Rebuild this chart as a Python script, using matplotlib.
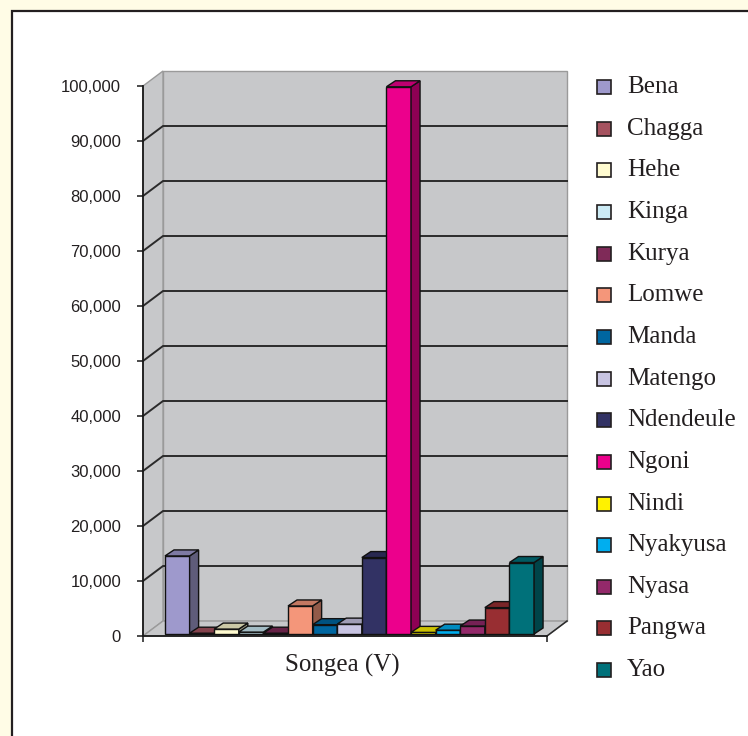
import matplotlib

matplotlib.use("Agg")
import matplotlib.pyplot as plt
from matplotlib.colors import to_rgb
from matplotlib.patches import Polygon, Rectangle
from matplotlib.ticker import FuncFormatter


# Speakers per language group, Songea (V)
groups = [
    "Bena", "Chagga", "Hehe", "Kinga", "Kurya", "Lomwe", "Manda", "Matengo",
    "Ndendeule", "Ngoni", "Nindi", "Nyakyusa", "Nyasa", "Pangwa", "Yao",
]
speakers = [
    14200, 150, 900, 350, 150, 5100, 1700, 1800,
    13900, 99500, 300, 700, 1450, 4800, 13000,
]
colors = [
    "#9E99CC", "#A5525F", "#FFFBD0", "#CCEBF5", "#7F2A58", "#F4967A", "#0066A0", "#C8C4E2",
    "#323264", "#EC008C", "#FFF200", "#00AEEF", "#93296A", "#982E32", "#00717A",
]
category = "Songea (V)"
y_max = 100000
y_step = 10000

# pseudo-3D geometry (x in bar widths, y in value units)
XSPAN = 16.42
BAR_X0 = 0.894
DEPTH_X = 0.813
DEPTH_Y = 2727
BAR_DX = 0.366
BAR_DY = 1091
BAR_BASE = 360

WALL = "#C7C8CA"
WALL_EDGE = "#9A9A9A"
GRID = "#2B2B2B"
SERIF = "Liberation Serif"


def shade(color, k):
    r, g, b = to_rgb(color)
    return (r * k, g * k, b * k)


def add_poly(ax, pts, face, edge, lw, z):
    ax.add_patch(Polygon(pts, closed=True, facecolor=face, edgecolor=edge,
                         linewidth=lw, zorder=z, clip_on=False))


fig = plt.figure(figsize=(7.48, 7.36), dpi=100)
fig.patch.set_facecolor("#FFFCE6")
fig.add_artist(Rectangle((11.5 / 748, -0.1), 1.2, 1 - 11 / 736 + 0.1,
                         transform=fig.transFigure, facecolor="white",
                         edgecolor="#231F20", linewidth=1.6, zorder=0))

ax = fig.add_axes([143 / 748, 100 / 736, 404 / 748, 550 / 736])
ax.set_facecolor("none")
ax.set_xlim(0, XSPAN)
ax.set_ylim(0, y_max)

# walls and floor
top = y_max + DEPTH_Y
add_poly(ax, [(DEPTH_X, DEPTH_Y), (XSPAN + DEPTH_X, DEPTH_Y), (XSPAN + DEPTH_X, top), (DEPTH_X, top)],
         WALL, WALL_EDGE, 1.0, 0.5)
add_poly(ax, [(0, 0), (DEPTH_X, DEPTH_Y), (DEPTH_X, top), (0, y_max)], WALL, WALL_EDGE, 1.0, 0.5)
add_poly(ax, [(0, 0), (XSPAN, 0), (XSPAN + DEPTH_X, DEPTH_Y), (DEPTH_X, DEPTH_Y)], WALL, WALL_EDGE, 1.0, 0.6)
ax.plot([XSPAN, XSPAN + DEPTH_X], [0, DEPTH_Y], color=GRID, lw=1.1, zorder=0.7, clip_on=False)

for v in range(y_step, y_max, y_step):
    ax.plot([0, DEPTH_X, XSPAN + DEPTH_X], [v, v + DEPTH_Y, v + DEPTH_Y],
            color=GRID, lw=1.4, zorder=0.8, clip_on=False)

# bars, left to right so each one hides its neighbour's side face
for i, (val, col) in enumerate(zip(speakers, colors)):
    x0 = BAR_X0 + i
    x1 = x0 + 1
    y0 = BAR_BASE
    y1 = BAR_BASE + val
    z = 2 + i * 0.01
    add_poly(ax, [(x0, y0), (x1, y0), (x1, y1), (x0, y1)], col, "#111111", 1.0, z)
    add_poly(ax, [(x1, y0), (x1 + BAR_DX, y0 + BAR_DY), (x1 + BAR_DX, y1 + BAR_DY), (x1, y1)],
             shade(col, 0.6), "#111111", 1.0, z)
    add_poly(ax, [(x0, y1), (x1, y1), (x1 + BAR_DX, y1 + BAR_DY), (x0 + BAR_DX, y1 + BAR_DY)],
             shade(col, 0.8), "#111111", 1.0, z)

# axes
for side in ("top", "right"):
    ax.spines[side].set_visible(False)
for side in ("left", "bottom"):
    ax.spines[side].set_color("#1A1A1A")
    ax.spines[side].set_linewidth(1.3)
    ax.spines[side].set_zorder(3)

ax.set_yticks(range(0, y_max + 1, y_step))
ax.yaxis.set_major_formatter(FuncFormatter(lambda v, _: f"{int(v):,}"))
ax.set_xticks([0, XSPAN])
ax.set_xticklabels([])
ax.tick_params(axis="both", direction="out", length=4.3, width=1.1, color="#1A1A1A")
ax.tick_params(axis="y", pad=11.5, labelsize=12, labelcolor="#231F20")
for lab in ax.get_yticklabels():
    lab.set_fontfamily("Liberation Sans")

ax.text(0.494, -0.053, category, transform=ax.transAxes, ha="center", va="center",
        fontsize=18, family=SERIF, color="#231F20")

# legend
for i, (name, col) in enumerate(zip(groups, colors)):
    yc = 1 - (87 + i * 41.65) / 736
    fig.add_artist(Rectangle((597 / 748, yc - 7 / 736), 14 / 748, 14 / 736,
                             transform=fig.transFigure, facecolor=col,
                             edgecolor="#231F20", linewidth=1.2))
    fig.text(627 / 748, yc, name, ha="left", va="center", fontsize=18,
             family=SERIF, color="#231F20")

fig.savefig("out.png", dpi=100, facecolor=fig.get_facecolor())
